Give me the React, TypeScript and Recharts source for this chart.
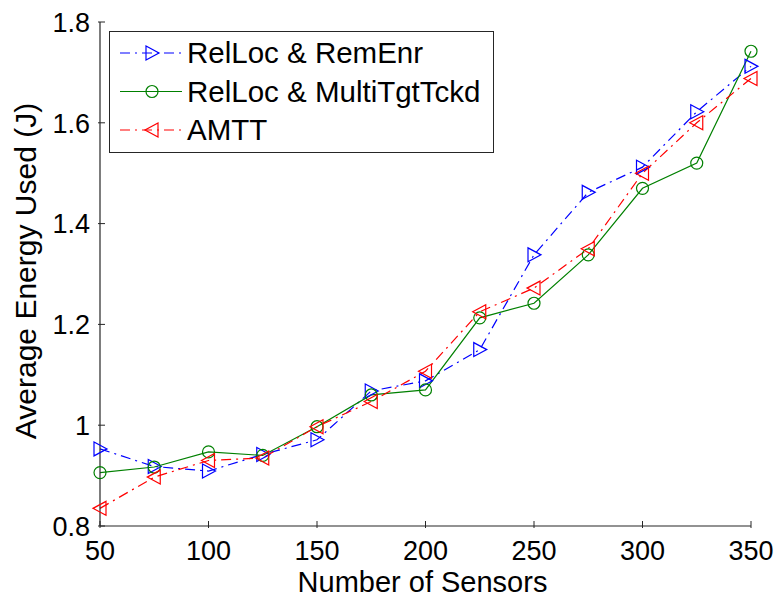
import React from "react";
import { LineChart, Line, XAxis, YAxis, Legend } from "recharts";

const sensors = [50, 75, 100, 125, 150, 175, 200, 225, 250, 275, 300, 325, 350];
const remEnr = [0.953, 0.918, 0.909, 0.942, 0.971, 1.068, 1.088, 1.15, 1.338, 1.462, 1.512, 1.622, 1.712];
const multiTgt = [0.906, 0.917, 0.947, 0.94, 0.997, 1.06, 1.07, 1.213, 1.242, 1.338, 1.47, 1.52, 1.742];
const amtt = [0.835, 0.897, 0.93, 0.935, 0.997, 1.047, 1.107, 1.225, 1.272, 1.35, 1.5, 1.6, 1.688];

const xTicks = [50, 100, 150, 200, 250, 300, 350];
const yTicks = [0.8, 1, 1.2, 1.4, 1.6, 1.8];

const SERIES = [
  { key: "remEnr", name: "RelLoc & RemEnr", color: "#0000ff", dash: "10 5 2 5", shape: "right" },
  { key: "multiTgt", name: "RelLoc & MultiTgtTckd", color: "#008000", dash: undefined, shape: "circle" },
  { key: "amtt", name: "AMTT", color: "#ff0000", dash: "10 5 2 5", shape: "left" },
];

const data = sensors.map((s, i) => ({
  sensors: s,
  remEnr: remEnr[i],
  multiTgt: multiTgt[i],
  amtt: amtt[i],
}));

const FONT = '"Liberation Sans", Arial, sans-serif';
const AXIS = "#262626";

function Marker({ shape, cx, cy, color }: { shape: string; cx?: number; cy?: number; color: string }) {
  if (cx == null || cy == null) return null;
  if (shape === "circle") {
    return <circle cx={cx} cy={cy} r={6} fill="none" stroke={color} strokeWidth={1.2} />;
  }
  const pts =
    shape === "right"
      ? `${cx - 6},${cy - 7} ${cx - 6},${cy + 7} ${cx + 7},${cy}`
      : `${cx + 6},${cy - 7} ${cx + 6},${cy + 7} ${cx - 7},${cy}`;
  return <polygon points={pts} fill="none" stroke={color} strokeWidth={1.2} />;
}

const BottomTick = ({ x, y, payload }: any) => (
  <g>
    <line x1={x} y1={y} x2={x} y2={y - 7} stroke={AXIS} />
    <text x={x} y={y + 32} textAnchor="middle" fontSize={27} fontFamily={FONT} fill="#000">
      {payload.value}
    </text>
  </g>
);

const LeftTick = ({ x, y, payload }: any) => (
  <g>
    <line x1={x} y1={y} x2={x + 7} y2={y} stroke={AXIS} />
    <text x={x - 8} y={y} dy="0.36em" textAnchor="end" fontSize={27} fontFamily={FONT} fill="#000">
      {String(payload.value)}
    </text>
  </g>
);

const TopTick = ({ x, y }: any) => <line x1={x} y1={y} x2={x} y2={y + 7} stroke={AXIS} />;
const RightTick = ({ x, y }: any) => <line x1={x} y1={y} x2={x - 7} y2={y} stroke={AXIS} />;

const XLabel = ({ viewBox }: any) => (
  <text
    x={viewBox.x + viewBox.width / 2 - 3}
    y={viewBox.y + 66}
    textAnchor="middle"
    fontSize={29}
    fontFamily={FONT}
    fill="#000"
  >
    Number of Sensors
  </text>
);

const YLabel = ({ viewBox }: any) => {
  const cy = viewBox.y + viewBox.height / 2 - 3;
  return (
    <text
      x={36}
      y={cy}
      transform={`rotate(-90 36 ${cy})`}
      textAnchor="middle"
      fontSize={30}
      fontFamily={FONT}
      fill="#000"
    >
      Average Energy Used (J)
    </text>
  );
};

const renderLegend = () => (
  <svg width={385} height={122} style={{ display: "block" }}>
    <rect x={0.5} y={0.5} width={384} height={121} fill="#fff" stroke={AXIS} />
    {SERIES.map((s, i) => {
      const y = 22 + i * 38.5;
      return (
        <g key={s.key}>
          <line x1={11} y1={y} x2={73} y2={y} stroke={s.color} strokeWidth={1.2} strokeDasharray={s.dash} />
          <Marker shape={s.shape} cx={43} cy={y} color={s.color} />
          <text x={78} y={y + 10} fontSize={29.5} fontFamily={FONT} fill="#000">
            {s.name}
          </text>
        </g>
      );
    })}
  </svg>
);

export default function App() {
  return (
    <div style={{ position: "absolute", left: 0, top: 0, width: 777, height: 600, background: "#fff", fontFamily: FONT }}>
      <LineChart width={777} height={600} data={data} margin={{ top: 22, right: 26, left: 0, bottom: 0 }}>
        <XAxis
          dataKey="sensors"
          type="number"
          domain={[50, 350]}
          ticks={xTicks}
          height={74}
          tickSize={0}
          tickLine={false}
          tick={BottomTick}
          axisLine={{ stroke: AXIS, strokeWidth: 1.2 }}
          label={XLabel}
        />
        <XAxis
          xAxisId="top"
          orientation="top"
          dataKey="sensors"
          type="number"
          domain={[50, 350]}
          allowDataOverflow
          ticks={xTicks}
          height={0}
          tickSize={0}
          tickLine={false}
          tick={TopTick}
          axisLine={{ stroke: AXIS, strokeWidth: 1.2 }}
        />
        <YAxis
          type="number"
          domain={[0.8, 1.8]}
          ticks={yTicks}
          width={100}
          tickSize={0}
          tickLine={false}
          tick={LeftTick}
          axisLine={{ stroke: AXIS, strokeWidth: 1.2 }}
          label={YLabel}
        />
        <YAxis
          yAxisId="right"
          orientation="right"
          type="number"
          domain={[0.8, 1.8]}
          allowDataOverflow
          ticks={yTicks}
          width={0}
          tickSize={0}
          tickLine={false}
          tick={RightTick}
          axisLine={{ stroke: AXIS, strokeWidth: 1.2 }}
        />
        <Legend
          layout="vertical"
          verticalAlign="middle"
          align="center"
          wrapperStyle={{ left: 109, top: 31, width: 385, height: 122 }}
          content={renderLegend}
        />
        {SERIES.map((s) => (
          <Line
            key={s.key}
            type="linear"
            dataKey={s.key}
            name={s.name}
            stroke={s.color}
            strokeWidth={1.2}
            strokeDasharray={s.dash}
            dot={(p: any) => <Marker key={p.index} shape={s.shape} cx={p.cx} cy={p.cy} color={s.color} />}
            activeDot={false}
            isAnimationActive={false}
          />
        ))}
      </LineChart>
    </div>
  );
}
